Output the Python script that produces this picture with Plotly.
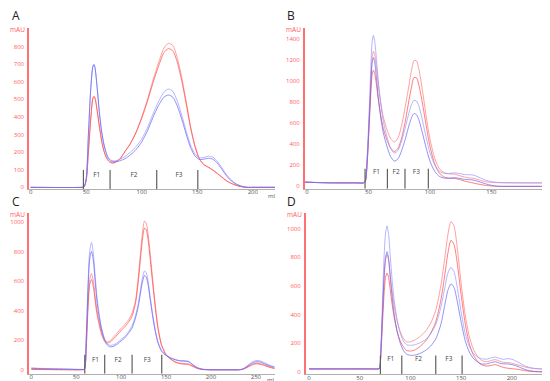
import plotly.graph_objects as go

W, H = 550, 381

# ---------------- Panel A ----------------
A_x = [0, 46, 48, 50, 52, 54, 56, 57, 58, 60, 62, 64, 66, 68, 70, 72, 75, 80, 85, 90, 95, 100, 105, 110, 115, 120, 124, 128, 132, 136, 140, 144, 148, 152, 156, 160, 164, 168, 172, 176, 180, 185, 190, 195, 200, 210, 220]
A_red1 = [0, 0, 2, 40, 200, 380, 505, 517, 505, 430, 340, 262, 207, 172, 152, 142, 140, 160, 205, 252, 315, 400, 495, 605, 705, 790, 817, 805, 735, 625, 490, 345, 235, 162, 130, 115, 100, 80, 60, 40, 25, 12, 4, 0, 0, 0, 0]
A_red2 = [0, 0, 2, 40, 200, 380, 505, 515, 505, 430, 340, 260, 205, 170, 150, 140, 138, 158, 203, 250, 312, 392, 485, 590, 685, 765, 787, 775, 710, 605, 475, 338, 230, 160, 128, 113, 98, 78, 58, 38, 24, 11, 3, 0, 0, 0, 0]
A_blue1 = [0, 0, 2, 50, 300, 550, 688, 700, 680, 560, 420, 315, 245, 198, 168, 155, 150, 158, 175, 200, 232, 275, 335, 415, 485, 540, 558, 545, 490, 410, 320, 240, 188, 168, 170, 177, 172, 148, 112, 75, 45, 20, 7, 0, 0, 0, 0]
A_blue2 = [0, 0, 2, 50, 300, 550, 685, 695, 675, 555, 415, 310, 240, 193, 163, 150, 145, 150, 163, 185, 215, 258, 318, 395, 463, 512, 524, 512, 462, 388, 302, 225, 178, 158, 160, 165, 160, 138, 104, 68, 40, 18, 6, 0, 0, 0, 0]
A_bounds = [47.5, 71.5, 113.5, 150.5]
A_labels_x = [59.5, 93, 133.5]
A_xticks = [0, 50, 100, 150, 200]
A_yticks = [0, 100, 200, 300, 400, 500, 600, 700, 800]

# ---------------- Panel B ----------------
B_x = [-2, 10, 20, 30, 40, 46, 47.5, 49, 50.5, 52, 53, 54, 55, 56.5, 58, 60, 62, 65, 68, 71, 74, 77, 80, 83, 85, 87, 89, 91, 94, 97, 100, 104, 108, 112, 116, 120, 124, 128, 132, 136, 140, 145, 150, 155, 160, 170, 180, 190, 198]
B_blue1 = [42, 36, 34, 33, 33, 33, 60, 300, 700, 1150, 1370, 1430, 1380, 1200, 1000, 780, 620, 470, 360, 315, 340, 430, 560, 700, 775, 815, 808, 760, 620, 460, 320, 200, 140, 122, 122, 128, 122, 112, 110, 105, 85, 60, 45, 38, 35, 34, 33, 33, 33]
B_blue2 = [40, 35, 33, 33, 33, 33, 50, 250, 600, 980, 1170, 1220, 1180, 1020, 840, 650, 510, 380, 282, 240, 260, 340, 450, 580, 650, 690, 680, 630, 500, 360, 240, 140, 92, 78, 78, 82, 76, 66, 64, 58, 44, 25, 10, 2, 0, 0, 0, 0, 0]
B_red1 = [40, 36, 34, 33, 33, 34, 55, 260, 620, 1020, 1220, 1280, 1250, 1120, 960, 790, 660, 540, 452, 420, 458, 580, 760, 960, 1100, 1190, 1190, 1110, 900, 660, 450, 262, 162, 128, 118, 116, 102, 88, 80, 75, 60, 45, 38, 35, 34, 33, 33, 33, 33]
B_red2 = [40, 35, 33, 33, 33, 33, 50, 230, 550, 900, 1060, 1100, 1070, 960, 820, 670, 550, 440, 362, 330, 360, 460, 620, 820, 940, 1030, 1030, 960, 780, 570, 380, 210, 120, 86, 76, 75, 65, 50, 40, 30, 20, 10, 4, 0, 0, 0, 0, 0, 0]
B_bounds = [47.2, 65.4, 79.7, 98.7]
B_labels_x = [56.5, 72.5, 89]
B_xticks = [0, 50, 100, 150]
B_yticks = [0, 200, 400, 600, 800, 1000, 1200, 1400]

# ---------------- Panel C ----------------
C_x = [0, 20, 40, 55, 59, 61, 63, 65, 67, 69, 71, 73, 75, 78, 81, 84, 88, 92, 96, 100, 104, 108, 112, 116, 119, 122, 124, 126, 128, 130, 132, 135, 138, 141, 145, 150, 155, 160, 165, 170, 175, 180, 185, 190, 200, 210, 220, 230, 235, 240, 245, 250, 255, 260, 265, 271]
C_blue1 = [12, 8, 5, 3, 5, 200, 560, 800, 860, 790, 640, 500, 400, 290, 222, 180, 165, 170, 185, 205, 225, 255, 295, 365, 445, 560, 630, 668, 655, 600, 510, 380, 270, 190, 130, 100, 82, 70, 63, 62, 58, 35, 15, 5, 0, 0, 0, 0, 5, 25, 50, 62, 60, 47, 32, 20]
C_blue2 = [10, 6, 4, 2, 5, 190, 520, 750, 800, 740, 600, 470, 375, 275, 210, 170, 155, 160, 175, 195, 215, 245, 280, 350, 425, 535, 600, 638, 625, 575, 490, 365, 260, 182, 125, 97, 80, 68, 60, 58, 54, 32, 13, 4, 0, 0, 0, 0, 4, 20, 42, 54, 52, 40, 27, 16]
C_red1 = [4, 2, 1, 0, 4, 140, 430, 610, 650, 600, 500, 405, 340, 260, 210, 190, 198, 225, 252, 280, 305, 335, 380, 470, 620, 820, 940, 1005, 990, 920, 810, 620, 440, 290, 170, 105, 75, 55, 45, 42, 40, 25, 10, 3, 0, 0, 0, 0, 3, 18, 35, 45, 42, 32, 20, 10]
C_red2 = [3, 1, 0, 0, 4, 130, 400, 575, 610, 565, 470, 380, 320, 245, 198, 180, 188, 212, 238, 265, 290, 320, 360, 450, 590, 780, 895, 958, 945, 880, 770, 590, 420, 280, 165, 100, 72, 52, 42, 38, 36, 22, 9, 2, 0, 0, 0, 0, 2, 15, 30, 40, 37, 28, 17, 8]
C_bounds = [59.5, 81.7, 112.2, 145.2]
C_labels_x = [71.5, 96.6, 129]
C_xticks = [0, 50, 100, 150, 200, 250]
C_yticks = [0, 200, 400, 600, 800, 1000]

# ---------------- Panel D ----------------
D_x = [0, 20, 40, 60, 68, 69.5, 71, 72.5, 74, 75.5, 77, 78.5, 80, 82, 84, 87, 90, 93, 96, 100, 105, 110, 115, 120, 125, 130, 134, 137, 140, 143, 146, 150, 154, 158, 162, 166, 170, 175, 180, 184, 188, 192, 196, 200, 205, 210, 215, 220, 225, 230, 239]
D_blue1 = [20, 20, 20, 20, 20, 25, 200, 500, 800, 970, 1020, 960, 820, 640, 500, 360, 270, 215, 190, 185, 190, 205, 225, 265, 330, 450, 590, 690, 730, 700, 600, 420, 270, 180, 130, 105, 92, 88, 98, 103, 93, 87, 92, 88, 72, 52, 36, 26, 21, 20, 20]
D_blue2 = [20, 20, 20, 20, 20, 25, 170, 420, 660, 800, 840, 790, 670, 520, 400, 280, 200, 150, 125, 115, 118, 130, 150, 180, 230, 330, 470, 570, 615, 590, 500, 350, 220, 140, 95, 70, 55, 55, 65, 70, 60, 55, 55, 50, 40, 25, 12, 5, 2, 0, 0]
D_red1 = [20, 20, 20, 20, 20, 22, 160, 400, 640, 780, 820, 780, 680, 560, 460, 350, 280, 235, 210, 210, 225, 250, 285, 340, 430, 600, 800, 960, 1050, 1020, 880, 620, 400, 250, 160, 110, 80, 70, 80, 85, 75, 65, 65, 60, 50, 40, 30, 25, 22, 20, 20]
D_red2 = [20, 20, 20, 20, 20, 22, 140, 340, 540, 660, 690, 660, 580, 470, 380, 280, 215, 175, 150, 145, 155, 180, 215, 270, 350, 500, 680, 830, 920, 890, 770, 540, 340, 200, 120, 75, 50, 40, 45, 50, 40, 30, 25, 22, 18, 12, 6, 2, 0, 0, 0]
D_bounds = [70.4, 91.5, 125, 151]
D_labels_x = [80.6, 108, 138]
D_xticks = [0, 50, 100, 150, 200]
D_yticks = [0, 200, 400, 600, 800, 1000]

FRACTION_NAMES = ["F1", "F2", "F3"]

# ---------------- styling / layout ----------------
RED1 = "rgba(255,120,120,0.7)"
RED2 = "rgba(255,70,70,0.7)"
BLUE1 = "rgba(150,150,255,0.7)"
BLUE2 = "rgba(100,100,245,0.7)"
AXIS_RED = "#ff7070"
FONT = "Open Sans"

panels = [
    dict(x=A_x, curves=[A_red1, A_red2, A_blue1, A_blue2], bounds=A_bounds, lx=A_labels_x,
         xt=A_xticks, yt=A_yticks,
         xr=[-1.5, 220], yr=[-9.6, 905], top=99, ly=68, box=(21, 267, 20, 182)),
    dict(x=B_x, curves=[B_red1, B_red2, B_blue1, B_blue2], bounds=B_bounds, lx=B_labels_x,
         xt=B_xticks, yt=B_yticks,
         xr=[-1.9, 198.5], yr=[-22.6, 1501], top=166, ly=128, box=(296.7, 543, 20, 181.7)),
    dict(x=C_x, curves=[C_red1, C_red2, C_blue1, C_blue2], bounds=C_bounds, lx=C_labels_x,
         xt=C_xticks, yt=C_yticks,
         xr=[-2.6, 271], yr=[-26.9, 1060], top=101, ly=63, box=(21, 266.7, 206, 367.7)),
    dict(x=D_x, curves=[D_red1, D_red2, D_blue1, D_blue2], bounds=D_bounds, lx=D_labels_x,
         xt=D_xticks, yt=D_yticks,
         xr=[-3.3, 239], yr=[-18, 1111], top=114, ly=86, box=(297.7, 543.3, 206, 368.3)),
]
colors = [RED1, RED2, BLUE1, BLUE2]

fig = go.Figure()
layout = dict(
    width=W, height=H, margin=dict(l=0, r=0, t=0, b=0),
    paper_bgcolor="white", plot_bgcolor="white", showlegend=False,
    font=dict(family=FONT, size=6, color="#444"),
)
annotations = []

for i, p in enumerate(panels):
    n = "" if i == 0 else str(i + 1)
    xa, ya = "x" + n, "y" + n
    l, r, t, b = p["box"]
    layout["xaxis" + n] = dict(
        domain=[l / W, r / W], range=p["xr"], anchor=ya, showgrid=False, zeroline=False,
        showline=True, linecolor="#b0b0b0", linewidth=1, ticks="",
        tickvals=p["xt"], tickfont=dict(size=6, color="#555", family=FONT),
        ticklabelstandoff=-3,
    )
    layout["yaxis" + n] = dict(
        domain=[1 - b / H, 1 - t / H], range=p["yr"], anchor=xa, showgrid=False, zeroline=False,
        showline=True, linecolor=AXIS_RED, linewidth=1.6, ticks="", tickvals=p["yt"],
        tickfont=dict(size=6, color="#ff5a5a", family=FONT), ticklabelstandoff=2,
    )
    for ys, c in zip(p["curves"], colors):
        fig.add_trace(go.Scatter(x=p["x"], y=ys, mode="lines", xaxis=xa, yaxis=ya,
                                 line=dict(color=c, width=1.0, shape="spline", smoothing=0.7),
                                 hoverinfo="skip"))
    mx, my = [], []
    for bx in p["bounds"]:
        mx += [bx, bx, None]
        my += [p["yr"][0], p["top"], None]
    fig.add_trace(go.Scatter(x=mx, y=my, mode="lines", xaxis=xa, yaxis=ya,
                             line=dict(color="#606060", width=1.2), hoverinfo="skip"))
    fig.add_trace(go.Scatter(x=p["lx"], y=[p["ly"]] * len(p["lx"]), mode="text", text=FRACTION_NAMES,
                             xaxis=xa, yaxis=ya, textfont=dict(size=6.5, color="#444", family=FONT),
                             hoverinfo="skip"))
    annotations.append(dict(text="mAU", x=(l - 3) / W, y=1 - (t + 2) / H, xref="paper", yref="paper",
                            xanchor="right", yanchor="middle", showarrow=False, borderpad=0,
                            font=dict(size=6.5, color="#ff5a5a", family=FONT)))
    annotations.append(dict(text="ml", x=(r - 4) / W, y=1 - (b + 1.5) / H, xref="paper", yref="paper",
                            xanchor="center", yanchor="top", showarrow=False, borderpad=0,
                            font=dict(size=6, color="#555", family=FONT)))

letters = [("A", 8, 8), ("B", 283, 8), ("C", 8, 195), ("D", 283, 195)]
for txt, lx, ly in letters:
    annotations.append(dict(text=txt, x=lx / W, y=1 - ly / H, xref="paper", yref="paper",
                            xanchor="center", yanchor="middle", showarrow=False, borderpad=0,
                            font=dict(size=12, color="#222", family=FONT)))

layout["annotations"] = annotations
fig.update_layout(**layout)
fig.write_html("out.html")
